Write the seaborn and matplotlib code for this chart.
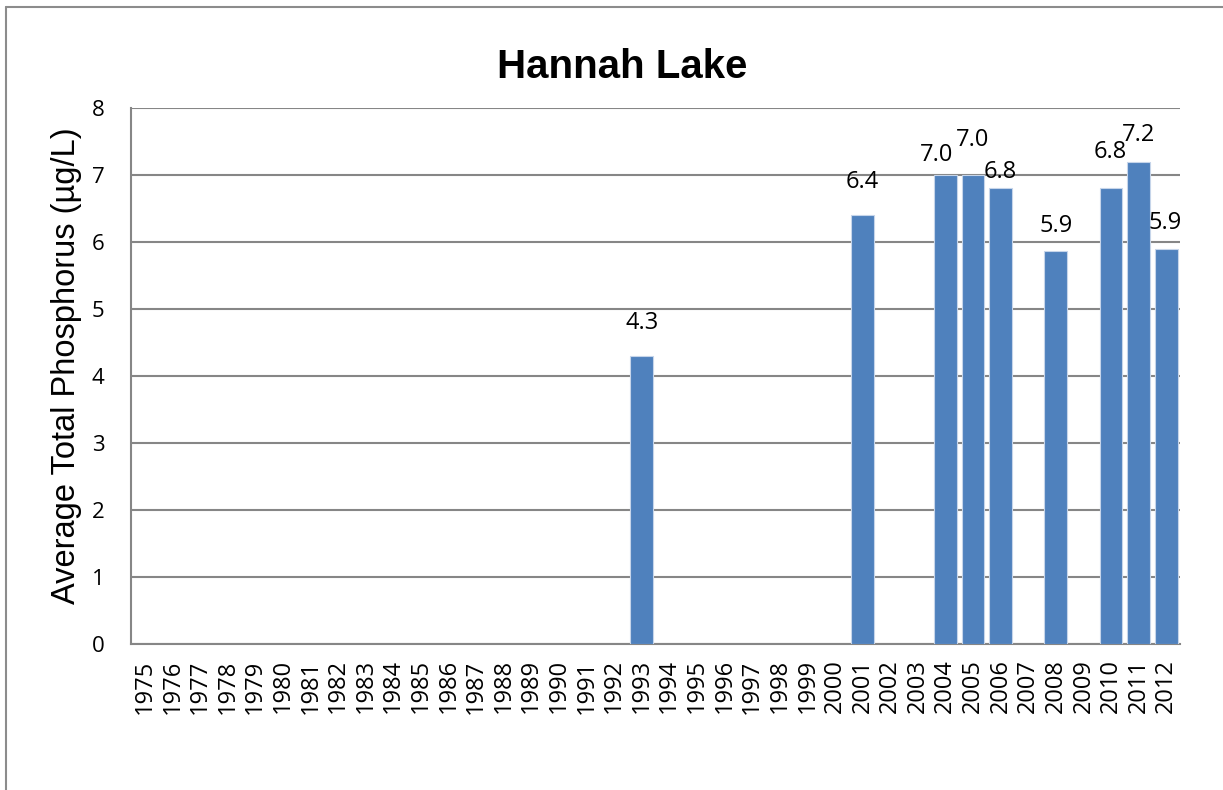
"""Hannah Lake - average total phosphorus by year"""
import numpy as np
import pandas as pd
import matplotlib
matplotlib.use('Agg')
import matplotlib.pyplot as plt
from matplotlib.lines import Line2D
import seaborn as sns

# Data
YEARS = [str(y) for y in range(1975, 2013)]
SAMPLE_YEARS = ['1993', '2001', '2004', '2005', '2006', '2008', '2010', '2011', '2012']
TP_VALUES = [4.3, 6.4, 7.0, 7.0, 6.8, 5.86, 6.8, 7.2, 5.9]

data = pd.DataFrame({'Year': YEARS})
data = data.merge(pd.DataFrame({'Year': SAMPLE_YEARS, 'TP': TP_VALUES}), on='Year', how='left')

# label placement (pixels: dx, height of label centre above bar top), Excel-style
LABEL_DEFAULT = (0, 33)
LABEL_NUDGE = {'2004': (-9, 20), '2005': (0, 35), '2006': (0, 16), '2008': (0, 25),
               '2010': (-1, 36), '2011': (0, 27), '2012': (-1, 26)}

BAR_COLOR = '#4F81BD'
GRID_COLOR = '#868686'
TICK_FONT = ['Open Sans', 'DejaVu Sans']
LABEL_FONT = ['Liberation Sans', 'DejaVu Sans']

sns.set_style('white')
plt.rcParams['text.color'] = 'black'
plt.rcParams['xtick.labelcolor'] = 'black'
plt.rcParams['ytick.labelcolor'] = 'black'
plt.rcParams['axes.labelcolor'] = 'black'

W, H = 1223, 790
fig = plt.figure(figsize=(W / 100, H / 100), dpi=100)

# outer chart-area border (left and top only, as in the picture)
fig.add_artist(Line2D([6 / W, 6 / W], [0, 1 - 7 / H], color='#8c8c8c', lw=1.5,
                      transform=fig.transFigure))
fig.add_artist(Line2D([6 / W, 1], [1 - 7 / H, 1 - 7 / H], color='#8c8c8c', lw=1.5,
                      transform=fig.transFigure))

ax = fig.add_axes([131 / W, (H - 644) / H, (1180 - 131) / W, (644 - 108) / H])
sns.barplot(data=data, x='Year', y='TP', order=YEARS, color=BAR_COLOR,
            width=0.83, edgecolor='#c6d5ea', linewidth=0.8, saturation=1,
            errorbar=None, ax=ax, zorder=3)

ax.set_xlim(-0.5, len(YEARS) - 0.5)
ax.set_ylim(0, 8)
ax.set_yticks(range(0, 9))
ax.yaxis.grid(True, color=GRID_COLOR, linewidth=1.5, zorder=0)
ax.set_axisbelow(True)
for side in ['top', 'right']:
    ax.spines[side].set_visible(False)
for side in ['left', 'bottom']:
    ax.spines[side].set_color(GRID_COLOR)
    ax.spines[side].set_linewidth(1.5)

# x ticks: labels at categories, tick marks at category boundaries
ax.set_xticks(range(len(YEARS)))
ax.set_xticklabels(YEARS, rotation=90, fontsize=17, family=TICK_FONT)
ax.set_xticks(np.arange(-0.5, len(YEARS)), minor=True)
ax.tick_params(axis='x', which='major', length=0, pad=11)
ax.tick_params(axis='x', which='minor', length=7, width=1.5, color=GRID_COLOR, direction='out')
ax.tick_params(axis='y', length=7, width=1.5, color=GRID_COLOR, direction='out', pad=12)
for lbl in ax.get_yticklabels():
    lbl.set_fontsize(16)
    lbl.set_family(TICK_FONT)

# value labels
px = 72 / 100  # pixels -> points
for yr, val in zip(SAMPLE_YEARS, TP_VALUES):
    dx, dy = LABEL_NUDGE.get(yr, LABEL_DEFAULT)
    ax.annotate(f'{val:.1f}', (YEARS.index(yr), val), xytext=(dx * px, dy * px),
                textcoords='offset points', ha='center', va='center',
                fontsize=17, family=TICK_FONT)

ax.set_xlabel('')
ax.set_ylabel('Average Total Phosphorus (µg/L)', fontsize=23.5, family=LABEL_FONT)
ax.yaxis.set_label_coords(-0.047, 0.52)
fig.text(622 / W, 1 - 67 / H, 'Hannah Lake', ha='center', va='center',
         fontsize=29, fontweight='bold', family=LABEL_FONT)

plt.savefig('out.png', dpi=100)
